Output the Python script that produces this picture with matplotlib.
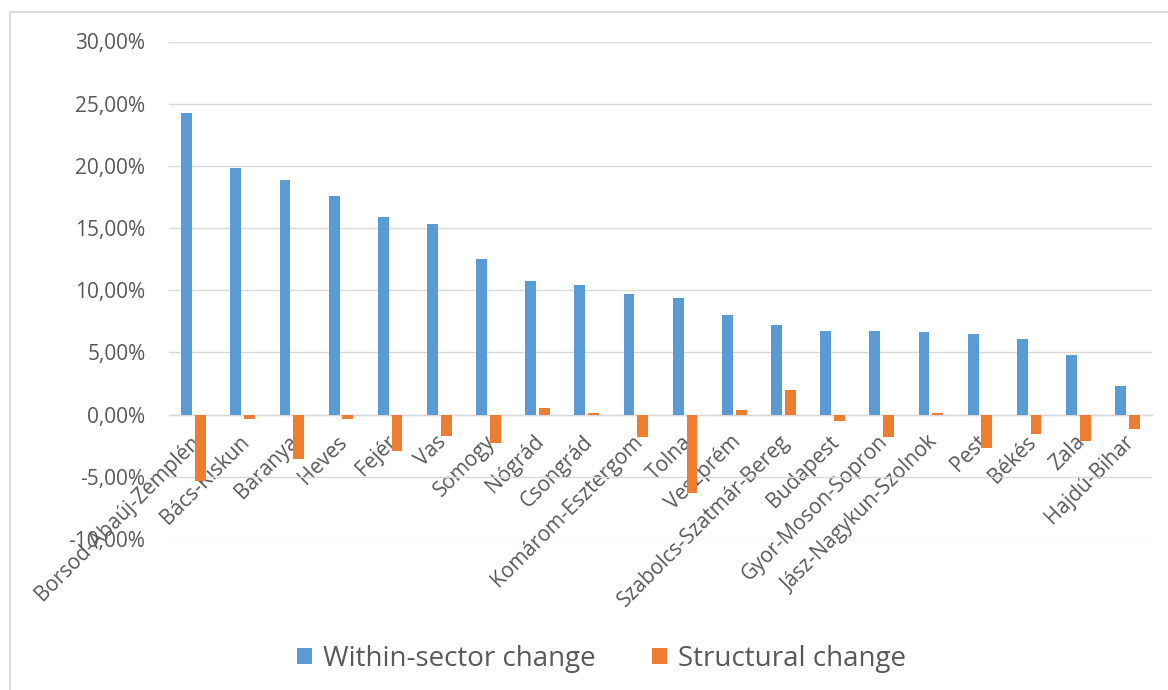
import matplotlib
matplotlib.use("Agg")
import matplotlib.pyplot as plt
import matplotlib.transforms as mtransforms
import numpy as np
from matplotlib.patches import Rectangle
from matplotlib.ticker import FuncFormatter, MultipleLocator

plt.rcParams['font.family'] = ['Open Sans', 'DejaVu Sans']

counties = [
    "Borsod-Abaúj-Zemplén", "Bács-Kiskun", "Baranya", "Heves", "Fejér", "Vas",
    "Somogy", "Nógrád", "Csongrád", "Komárom-Esztergom", "Tolna", "Veszprém",
    "Szabolcs-Szatmár-Bereg", "Budapest", "Gyor-Moson-Sopron",
    "Jász-Nagykun-Szolnok", "Pest", "Békés", "Zala", "Hajdú-Bihar",
]
within_sector = [24.23, 19.80, 18.84, 17.60, 15.86, 15.35, 12.50, 10.72, 10.40,
                 9.70, 9.38, 8.05, 7.20, 6.75, 6.70, 6.68, 6.48, 6.10, 4.78, 2.28]
structural = [-5.30, -0.38, -3.60, -0.35, -2.90, -1.75, -2.30, 0.50, 0.15,
              -1.80, -6.30, 0.38, 1.94, -0.50, -1.80, 0.15, -2.65, -1.58,
              -2.13, -1.13]
series_names = ["Within-sector change", "Structural change"]

BLUE = "#5B9BD5"
ORANGE = "#ED7D31"
GRID = "#D9D9D9"
TEXT = "#595959"

W, H = 1168, 690
fig = plt.figure(figsize=(W / 100, H / 100), dpi=100)
fig.patch.set_facecolor("white")

# chart-area border
fig.patches.append(Rectangle((9.5 / W, -0.05), 1.1, 1 - 12 / H + 0.05,
                             transform=fig.transFigure, fill=False,
                             edgecolor=GRID, linewidth=1.3))

ax = fig.add_axes([169 / W, 1 - 539 / H, (1152 - 169) / W, (539 - 41.5) / H])

x = np.arange(len(counties))
bw = 0.22
off = 0.14
ax.bar(x - off, within_sector, width=bw, color=BLUE, label=series_names[0], zorder=3)
ax.bar(x + off, structural, width=bw, color=ORANGE, label=series_names[1], zorder=3)

ax.set_xlim(-0.5, len(counties) - 0.5)
ax.set_ylim(-10, 30)
ax.yaxis.set_major_locator(MultipleLocator(5))
ax.yaxis.set_major_formatter(
    FuncFormatter(lambda v, _: f"{v:.2f}%".replace(".", ",")))
ax.grid(axis="y", color=GRID, linewidth=1.0, zorder=0)
ax.set_axisbelow(True)

for s in ["top", "right", "left"]:
    ax.spines[s].set_visible(False)
ax.spines["bottom"].set_position(("data", 0))
ax.spines["bottom"].set_color(GRID)
ax.spines["bottom"].set_linewidth(1.0)

ax.tick_params(axis="y", length=0, pad=17, labelsize=15, labelcolor=TEXT)
ax.tick_params(axis="x", length=0, pad=12, labelsize=15, labelcolor=TEXT)
ax.set_xticks(x)
ax.set_xticklabels(counties, rotation=45, ha="right", va="top",
                   rotation_mode="anchor")
# nudge the slanted category labels slightly left
shift = mtransforms.ScaledTranslation(-4 / 100, 0, fig.dpi_scale_trans)
for lbl in ax.get_xticklabels():
    lbl.set_transform(lbl.get_transform() + shift)

leg = ax.legend(loc="center", bbox_to_anchor=(0.515, 0.045),
                bbox_transform=fig.transFigure, ncol=2, frameon=False,
                fontsize=20, handlelength=0.55, handleheight=0.55,
                handletextpad=0.4, columnspacing=2.0)
for t in leg.get_texts():
    t.set_color(TEXT)

fig.savefig("out.png", dpi=100, facecolor="white")
